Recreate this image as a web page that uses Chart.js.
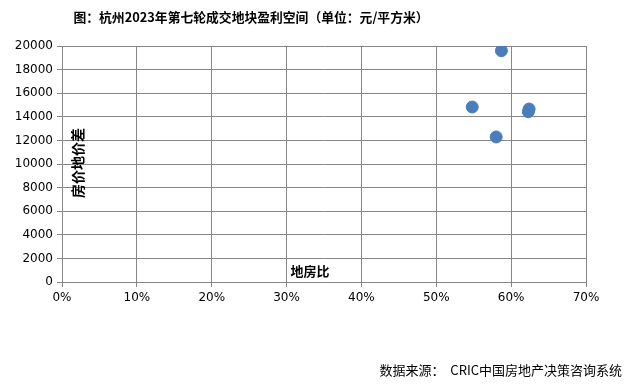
<!DOCTYPE html>
<html>
<head>
<meta charset="utf-8">
<script src="https://cdn.jsdelivr.net/npm/chart.js@4"></script>
<style>
  html, body { margin: 0; padding: 0; background: #fff; }
  #wrap { width: 628px; height: 389px; position: relative; }
</style>
</head>
<body>
<div id="wrap"><canvas id="scatterChart" width="628" height="389"></canvas></div>
<script>
// data
var landRatio = [0.587, 0.548, 0.624, 0.623, 0.580];   // 地房比
var priceGap = [19600, 14830, 14660, 14430, 12290];     // 房价地价差 (元/平方米)

var titleText = "图：杭州2023年第七轮成交地块盈利空间（单位：元/平方米）";
var sourceText = "数据来源：  CRIC中国房地产决策咨询系统";
var xTitle = "地房比";
var yTitle = "房价地价差";

var points = [];
for (var i = 0; i < landRatio.length; i++) {
    points.push({ x: landRatio[i], y: priceGap[i] });
}

var cjk = '"Noto Sans CJK SC", "Noto Sans", sans-serif';

// draw title, source and the in-plot axis labels
var textPlugin = {
    id: 'textPlugin',
    afterDraw: function (chart) {
        var ctx = chart.ctx;
        ctx.save();
        ctx.fillStyle = '#000';
        ctx.textBaseline = 'middle';

        ctx.font = 'bold 12.8px ' + cjk;
        ctx.textAlign = 'center';
        ctx.fillText(titleText, 251, 17);

        ctx.font = '13px ' + cjk;
        ctx.textAlign = 'right';
        ctx.fillText(sourceText, 622, 370);

        ctx.font = 'bold 13px ' + cjk;
        ctx.textAlign = 'center';
        ctx.fillText(xTitle, 310, 271);

        ctx.translate(78, 163);
        ctx.rotate(-Math.PI / 2);
        ctx.font = 'bold 14px ' + cjk;
        ctx.fillText(yTitle, 0, 0);
        ctx.restore();
    }
};

var ctx = document.getElementById('scatterChart').getContext('2d');
var myChart = new Chart(ctx, {
    type: 'scatter',
    data: {
        datasets: [{
            data: points,
            backgroundColor: '#4a7ebb',
            borderColor: '#4a7ebb',
            pointRadius: 6,
            pointHoverRadius: 6
        }]
    },
    options: {
        responsive: false,
        animation: false,
        layout: { padding: { left: 0, top: 46, right: 42, bottom: 0 } },
        plugins: {
            legend: { display: false },
            tooltip: { enabled: false }
        },
        scales: {
            x: {
                type: 'linear',
                min: 0,
                max: 0.7,
                afterFit: function (scale) { scale.height = 107; },
                ticks: {
                    stepSize: 0.1,
                    color: '#000',
                    padding: 4,
                    font: { family: 'DejaVu Sans', size: 12 },
                    callback: function (v) { return Math.round(v * 100) + '%'; }
                },
                grid: { color: '#868686', tickLength: 5, lineWidth: 1 },
                border: { color: '#868686' }
            },
            y: {
                min: 0,
                max: 20000,
                afterFit: function (scale) { scale.width = 62; },
                ticks: {
                    stepSize: 2000,
                    color: '#000',
                    padding: 4,
                    font: { family: 'DejaVu Sans', size: 12 },
                    callback: function (v) { return String(v); }
                },
                grid: { color: '#868686', tickLength: 5, lineWidth: 1 },
                border: { color: '#868686' }
            }
        }
    },
    plugins: [textPlugin]
});
</script>
</body>
</html>
